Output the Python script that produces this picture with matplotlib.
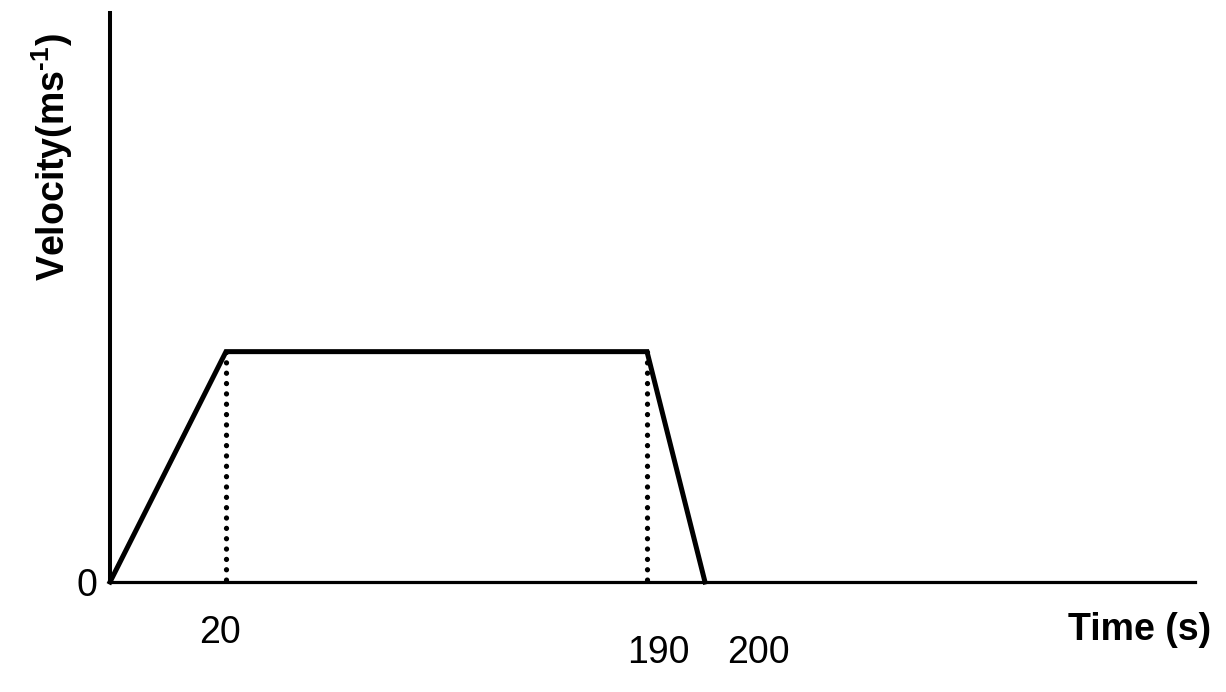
import matplotlib
matplotlib.use("Agg")
import matplotlib.pyplot as plt
import numpy as np

plt.rcParams['font.family'] = ['Liberation Sans', 'DejaVu Sans']
plt.rcParams['mathtext.fontset'] = 'custom'
plt.rcParams['mathtext.rm'] = 'Liberation Sans'
plt.rcParams['mathtext.bf'] = 'Liberation Sans:bold'

# velocity-time sketch (velocity has no value on the axis, so it is relative)
times = [0, 20, 190, 200]
velocity = [0, 1, 1, 0]
tick_times = [20, 190, 200]
tick_labels = ['20', '190', '200']

# the sketch is not to scale: piecewise map from time to drawn position
knot_t = [0, 20, 190, 200, 400]
knot_pos = [0, 116, 537, 595, 1085]

def fwd(t):
    return np.interp(t, knot_t, knot_pos)

def inv(p):
    return np.interp(p, knot_pos, knot_t)

W, H = 1226, 692
fig = plt.figure(figsize=(W / 100, H / 100), dpi=100)
ax = fig.add_axes([110 / W, (H - 582) / H, 1085 / W, (582 - 13) / H])
ax.set_xscale('function', functions=(fwd, inv))
ax.set_xlim(0, 400)
ax.set_ylim(0, 2.47)

for s in ['top', 'right']:
    ax.spines[s].set_visible(False)
ax.spines['left'].set_linewidth(2.9)
ax.spines['bottom'].set_linewidth(2.3)
ax.set_xticks([])
ax.set_yticks([])

ax.plot(times, velocity, color='black', lw=3.6, solid_joinstyle='miter', clip_on=False, zorder=3)

# dotted drop lines from the corners
for t in [times[1], times[2]]:
    ax.plot([t, t], [1, 0], color='black', lw=3.8, linestyle=(0, (0.01, 1.95)),
            dash_capstyle='round', clip_on=False)

# tick labels, nudged like the sketch
offsets = {'20': (-6, -51), '190': (11, -71), '200': (53, -71)}
for t, lab in zip(tick_times, tick_labels):
    dx, dy = offsets[lab]
    ax.annotate(lab, xy=(t, 0), xycoords='data', xytext=(dx, dy),
                textcoords='offset pixels', ha='center', va='center', fontsize=27)

ax.annotate('0', xy=(0, 0), xycoords='data', xytext=(-23, -4),
            textcoords='offset pixels', ha='center', va='center', fontsize=27)

fig.text(1140 / W, 1 - 630 / H, 'Time (s)', ha='center', va='center',
         fontsize=27, fontweight='bold')
fig.text(52 / W, 1 - 157 / H, 'Velocity(ms$\\mathbf{^{\u2010 1}}$)', ha='center', va='center',
         fontsize=27, fontweight='bold', rotation=90)

fig.savefig('out.png', dpi=100)
